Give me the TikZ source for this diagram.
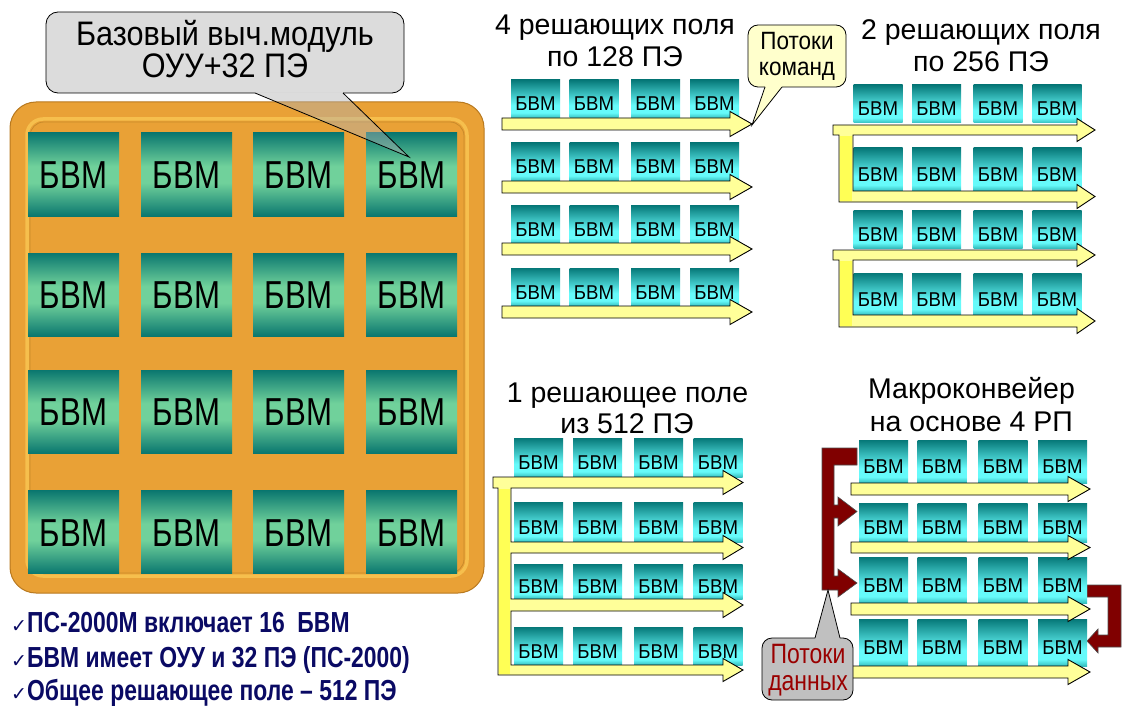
\documentclass[tikz,border=0pt]{standalone}
\usepackage{fontspec}
\setmainfont{Liberation Sans}
\newfontfamily\fnarrow[FakeStretch=0.8]{Liberation Sans}
\newfontfamily\fmid[FakeStretch=0.9]{Liberation Sans}
\newfontfamily\fsmall[FakeStretch=0.93]{Liberation Sans}
\newfontfamily\fdata[FakeStretch=0.82]{Liberation Sans}
\newfontfamily\fbold[FakeStretch=0.79]{Liberation Sans}
\newfontfamily\fsym{DejaVu Sans}
\definecolor{tdk}{HTML}{0A776F}
\definecolor{tlt}{HTML}{70D19B}
\definecolor{stp}{HTML}{067878}
\definecolor{scy}{HTML}{66FAFA}
\definecolor{sbot}{HTML}{34BDBD}
\definecolor{orng}{HTML}{E9A136}
\definecolor{orngdk}{HTML}{B8791F}
\definecolor{ornglt}{HTML}{F6BF4D}
\definecolor{orngln}{HTML}{C98B2A}
\definecolor{flowy}{HTML}{FFFF99}
\definecolor{bary}{HTML}{FFFF55}
\definecolor{dred}{HTML}{800000}
\definecolor{navy}{HTML}{0A0A64}
\definecolor{dtxt}{HTML}{990000}
\definecolor{callgray}{HTML}{DCDCDC}
\definecolor{datagray}{HTML}{C0C0C0}
\definecolor{cmdy}{HTML}{FFFFCC}
\pgfdeclareverticalshading{bigtileshade}{100bp}{color(0bp)=(tdk); color(25bp)=(tdk); color(45bp)=(tlt); color(55bp)=(tlt); color(75bp)=(tdk); color(100bp)=(tdk)}
\pgfdeclareverticalshading{smallshade}{100bp}{color(0bp)=(sbot); color(25bp)=(sbot); color(32bp)=(scy); color(42bp)=(scy); color(75bp)=(stp); color(100bp)=(stp)}
\newcommand\arrowpart[4]{-- (#3,#1) -- (#3,{#1-6.5}) -- (#4,{(#1+#2)/2}) -- (#3,{#2+6.5}) -- (#3,#2)}
\newcommand\chk{{\fsym\mdseries\fontsize{19}{19}\selectfont ✓}}
\tikzset{
  bigtile/.style={rectangle, minimum width=91, minimum height=83, inner sep=0, shade, shading=bigtileshade,
    font=\fnarrow\fontsize{39}{39}\selectfont, text height=28, text depth=0},
  smalltile/.style={rectangle, minimum width=49, inner sep=0, shade, shading=smallshade,
    font=\fsmall\fontsize{20}{20}\selectfont, text height=24, text depth=0},
  flow/.style={fill=flowy, draw=black, line width=0.9},
  dflow/.style={fill=dred, draw=black!70, line width=0.6},
  title/.style={anchor=base, inner sep=0, font=\fontsize{28.5}{28.5}\selectfont},
  bottomtxt/.style={anchor=base west, inner sep=0, text=navy, font=\fbold\bfseries\fontsize{29}{29}\selectfont},
}
\begin{document}
\begin{tikzpicture}[x=1pt,y=-1pt]
\useasboundingbox (0,0) rectangle (1122,706);
% ---------- orange frame ----------
\draw[fill=orng, draw=orngdk, line width=1, rounded corners=26] (10,102) rectangle (484,593);
\draw[draw=ornglt, line width=3.5, rounded corners=16] (27,119) rectangle (467,576);
\draw[draw=orngln, line width=0.8, rounded corners=14] (30,122) rectangle (464,573);
\foreach \r/\y in {1/174.5,2/294.5,3/411.5,4/532}
  \foreach \c/\x in {1/73.5,2/186.5,3/298.5,4/411.5}
    \node[bigtile] (B\r\c) at (\x,\y) {БВМ};
% ---------- big callout ----------
\fill[callgray, rounded corners=12] (46,12) rectangle (404,93);
\fill[gray!60, fill opacity=0.45] (255,93) -- (409,157) -- (343,93) -- cycle;
\draw[line width=0.8, rounded corners=12] (343,93) -- (404,93) -- (404,12) -- (46,12) -- (46,93) -- (255,93);
\draw[line width=0.8] (255,93) -- (409,157) -- (343,93);
\node[anchor=base, inner sep=0, font=\fmid\fontsize{34}{34}\selectfont] (c1a) at (225,46) {Базовый выч.модуль};
\node[anchor=base, inner sep=0, font=\fmid\fontsize{34}{34}\selectfont] (c1b) at (225,78) {ОУУ+32 ПЭ};
% ---------- panel 1 ----------
\node[title] (t1a) at (615,35) {4 решающих поля};
\node[title] (t1b) at (615,67) {по 128 ПЭ};
\foreach \r/\y in {1/99,2/162,3/224.5,4/287}
  \foreach \c/\x in {1/535.5,2/594,3/655.5,4/714.5}
    \node[smalltile, minimum height=38] (P\r\c) at (\x,\y) {БВМ};
\foreach \y in {118,181,243,306}
  \draw[flow] (502,\y) \arrowpart{\y}{\y+12}{730}{752} -- (502,\y+12) -- cycle;
% ---------- panel 2 ----------
\node[title] (t2a) at (981,40) {2 решающих поля};
\node[title] (t2b) at (981,72) {по 256 ПЭ};
\foreach \r/\y/\h in {1/104/38,2/169.5/43,3/229/38,4/294/42}
  \foreach \c/\x in {1/878,2/936.5,3/998,4/1057}
    \node[smalltile, minimum height=\h] (Q\r\c) at (\x,\y) {БВМ};
\draw[flow] (833,125) \arrowpart{125}{135}{1077}{1095} -- (853,135) -- (853,191)
  \arrowpart{191}{202}{1077}{1095} -- (839,202) -- (839,135) -- (833,135) -- cycle;
\fill[bary] (839.6,135.6) rectangle (852.4,201.4);
\draw[flow] (833,250) \arrowpart{250}{260}{1077}{1095} -- (853,260) -- (853,315)
  \arrowpart{315}{327}{1077}{1095} -- (839,327) -- (839,260) -- (833,260) -- cycle;
\fill[bary] (839.6,260.6) rectangle (852.4,326.4);
% ---------- panel 3 ----------
\node[title] (t3a) at (627.5,402) {1 решающее поле};
\node[title] (t3b) at (627,433) {из 512 ПЭ};
\foreach \r/\y/\h in {1/457.5/39,2/522/40,3/581.5/35,4/646/38}
  \foreach \c/\x in {1/538.5,2/597.5,3/658.5,4/718}
    \node[smalltile, minimum height=\h] (R\r\c) at (\x,\y) {БВМ};
\draw[flow] (493,477) \arrowpart{477}{488}{723}{743} -- (511,488) -- (511,542)
  \arrowpart{542}{553}{723}{743} -- (511,553) -- (511,599)
  \arrowpart{599}{611}{723}{743} -- (511,611) -- (511,665)
  \arrowpart{665}{675}{723}{743} -- (498,675) -- (498,488) -- (493,488) -- cycle;
\fill[bary] (498.6,488.6) rectangle (510.4,674.4);
% ---------- panel 4 ----------
\node[title] (t4a) at (971.5,398) {Макроконвейер};
\node[title] (t4b) at (971.5,431) {на основе 4 РП};
\draw[dflow] (822,448) -- (857,448) -- (857,465) -- (834,465) -- (834,505) -- (838,505) -- (838,497)
  -- (857,511.5) -- (838,526) -- (838,518) -- (834,518) -- (834,576) -- (838,576) -- (838,569)
  -- (857,583) -- (838,597) -- (838,590) -- (822,590) -- cycle;
\draw[dflow] (1087,585) -- (1121,585) -- (1121,647) -- (1098,647) -- (1098,653) -- (1087,641)
  -- (1098,629) -- (1098,635) -- (1108,635) -- (1108,597) -- (1087,597) -- cycle;
\foreach \r/\y/\h in {1/461.5/43,2/522.5/39,3/580/46,4/642.5/47}
  \foreach \c/\x in {1/883.5,2/942,3/1003,4/1062.5}
    \node[smalltile, minimum height=\h] (S\r\c) at (\x,\y) {БВМ};
\foreach \y/\b in {483/495,542/553,603/615,666/678}
  \draw[flow] (851,\y) \arrowpart{\y}{\b}{1068}{1090} -- (851,\b) -- cycle;
% ---------- callout: command streams ----------
\fill[cmdy, rounded corners=10] (748,25) rectangle (846,87);
\fill[cmdy] (765,87) -- (752,125) -- (782,87) -- cycle;
\draw[line width=0.8, rounded corners=10] (782,87) -- (846,87) -- (846,25) -- (748,25) -- (748,87) -- (765,87);
\draw[line width=0.8] (765,87) -- (752,125) -- (782,87);
\node[anchor=base, inner sep=0, font=\fmid\fontsize{25}{25}\selectfont] (k1) at (797,50) {Потоки};
\node[anchor=base, inner sep=0, font=\fmid\fontsize{25}{25}\selectfont] (k2) at (797,76) {команд};
% ---------- callout: data streams ----------
\fill[datagray, rounded corners=10] (762,638) rectangle (853,700);
\fill[datagray] (815,638) -- (828,590) -- (840,638) -- cycle;
\draw[line width=0.8, rounded corners=10] (840,638) -- (853,638) -- (853,700) -- (762,700) -- (762,638) -- (815,638);
\draw[line width=0.8] (815,638) -- (828,590) -- (840,638);
\node[anchor=base, inner sep=0, text=dtxt, font=\fdata\fontsize{28}{28}\selectfont] (d1) at (808,663) {Потоки};
\node[anchor=base, inner sep=0, text=dtxt, font=\fdata\fontsize{28}{28}\selectfont] (d2) at (808,690) {данных};
% ---------- bottom text ----------
\node[bottomtxt] (s1) at (11,632) {\chk ПС-2000М включает 16\ \ БВМ};
\node[bottomtxt] (s2) at (11,667) {\chk БВМ имеет ОУУ и 32 ПЭ (ПС-2000)};
\node[bottomtxt] (s3) at (11,700) {\chk Общее решающее поле – 512 ПЭ};
\end{tikzpicture}
\end{document}
